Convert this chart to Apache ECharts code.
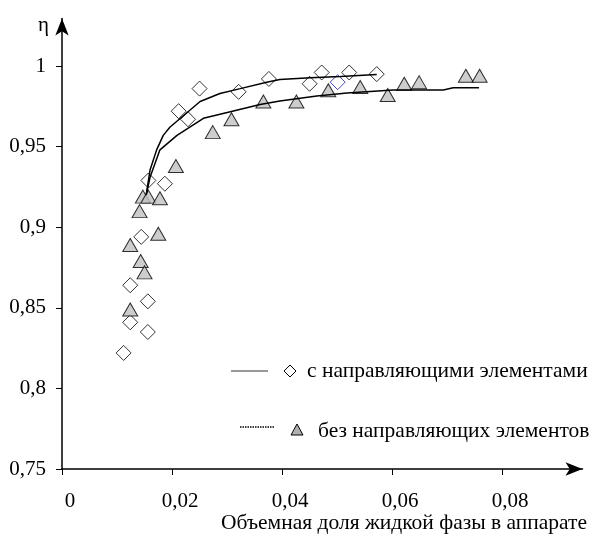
<!DOCTYPE html>
<html>
<head>
<meta charset="utf-8">
<script src="https://cdn.jsdelivr.net/npm/echarts@6/dist/echarts.min.js"></script>
<style>html,body{margin:0;padding:0;background:#fff;}#c{width:592px;height:534px;}</style>
</head>
<body>
<div id="c"></div>
<script>
// Experimental points: with guide elements (open diamonds)
const withGuidesPoints = [
  [0.0112, 0.822], [0.0124, 0.841], [0.0156, 0.835], [0.0124, 0.864], [0.0156, 0.854],
  [0.0144, 0.894], [0.0157, 0.929], [0.0187, 0.927], [0.0212, 0.972], [0.0229, 0.967],
  [0.0250, 0.986], [0.0321, 0.984], [0.0376, 0.992], [0.0450, 0.989], [0.0472, 0.996],
  [0.0501, 0.990], [0.0522, 0.996], [0.0572, 0.995]
];
// index of the point drawn with a blue outline
const highlightedIndex = 15;
// Experimental points: without guide elements (grey triangles)
const withoutGuidesPoints = [
  [0.0124, 0.889], [0.0124, 0.849], [0.0141, 0.910], [0.0143, 0.879], [0.0150, 0.872],
  [0.0147, 0.919], [0.0157, 0.919], [0.0175, 0.896], [0.0178, 0.918], [0.0207, 0.938],
  [0.0274, 0.959], [0.0308, 0.967], [0.0366, 0.978], [0.0426, 0.978], [0.0484, 0.985],
  [0.0542, 0.987], [0.0592, 0.982], [0.0622, 0.989], [0.0649, 0.990], [0.0734, 0.994],
  [0.0759, 0.994]
];
// Fitted curves
const fitWithGuides = [
  [0.0153, 0.920], [0.0160, 0.9355], [0.0172, 0.948], [0.0184, 0.957], [0.0196, 0.962],
  [0.0227, 0.971], [0.0251, 0.978], [0.0287, 0.983], [0.0324, 0.986], [0.0372, 0.990],
  [0.0396, 0.9917], [0.0451, 0.9927], [0.0506, 0.9935], [0.0572, 0.9947]
];
const fitWithoutGuides = [
  [0.0153, 0.920], [0.0160, 0.931], [0.0178, 0.948], [0.0209, 0.957], [0.0257, 0.9676],
  [0.0306, 0.9717], [0.0360, 0.9762], [0.0396, 0.9783], [0.0463, 0.9814], [0.0518, 0.9833],
  [0.0602, 0.9851], [0.0693, 0.9851], [0.0711, 0.9865], [0.0758, 0.9865]
];
const xTicks = [0, 0.02, 0.04, 0.06, 0.08];
const yTicks = [0.75, 0.8, 0.85, 0.9, 0.95, 1];
const seriesNames = ['с направляющими элементами', 'без направляющих элементов'];
const xTitle = 'Объемная доля жидкой фазы в аппарате';
const yTitle = 'η';

const FONT = 'Liberation Serif';
const fmt = v => String(+v.toFixed(4)).replace('.', ',');

const chart = echarts.init(document.getElementById('c'), null, {renderer: 'canvas'});
const diamondData = withGuidesPoints.map((p, i) => i === highlightedIndex
  ? {value: p, itemStyle: {borderColor: '#1a1a9a'}} : p);

chart.setOption({
  animation: false,
  backgroundColor: '#fff',
  grid: {left: 62, right: 9.5, top: 18.5, bottom: 65, containLabel: false},
  xAxis: {
    type: 'value', min: 0, max: 0.0946,
    axisLine: {show: true, onZero: false, symbol: ['none', 'arrow'], symbolSize: [10, 17],
      lineStyle: {color: '#000', width: 1.5}},
    axisTick: {show: true, inside: false, length: 6, customValues: xTicks, lineStyle: {color: '#000', width: 1}},
    axisLabel: {customValues: xTicks, formatter: fmt, color: '#000', fontFamily: FONT, fontSize: 21,
      margin: 22, padding: [0, 0, 0, 16]},
    splitLine: {show: false}
  },
  yAxis: {
    type: 'value', min: 0.75, max: 1.0295,
    axisLine: {show: true, onZero: false, symbol: ['none', 'arrow'], symbolSize: [10, 17],
      lineStyle: {color: '#000', width: 1.5}},
    axisTick: {show: true, inside: false, length: 6, customValues: yTicks, lineStyle: {color: '#000', width: 1}},
    axisLabel: {customValues: yTicks, formatter: fmt, color: '#000', fontFamily: FONT, fontSize: 21, margin: 16},
    splitLine: {show: false}
  },
  series: [
    {name: seriesNames[0], type: 'scatter', data: diamondData, symbol: 'diamond', symbolSize: [15, 15],
      itemStyle: {color: '#fff', borderColor: '#000', borderWidth: 1}, z: 2},
    {name: seriesNames[1], type: 'scatter', data: withoutGuidesPoints, symbol: 'triangle', symbolSize: [15, 13],
      itemStyle: {color: '#c0c0c0', borderColor: '#000', borderWidth: 1}, z: 2},
    {name: seriesNames[0] + ' (аппроксимация)', type: 'line', data: fitWithGuides, showSymbol: false,
      lineStyle: {color: '#000', width: 1.5}, z: 3},
    {name: seriesNames[1] + ' (аппроксимация)', type: 'line', data: fitWithoutGuides, showSymbol: false,
      lineStyle: {color: '#000', width: 1.5}, z: 3}
  ],
  graphic: [
    {type: 'text', left: 38, top: 15, style: {text: yTitle, font: '21px ' + FONT, fill: '#000'}},
    {type: 'text', right: 5, top: 512, style: {text: xTitle, font: '21.5px ' + FONT, fill: '#000'}},
    // legend row 1
    {type: 'line', shape: {x1: 231, y1: 371, x2: 268, y2: 371}, style: {stroke: '#333', lineWidth: 1}},
    {type: 'polygon', shape: {points: [[290, 365], [296, 371], [290, 377], [284, 371]]},
      style: {fill: '#fff', stroke: '#000', lineWidth: 1}},
    {type: 'text', x: 307, y: 371, style: {text: seriesNames[0], font: '21.5px ' + FONT, fill: '#000', verticalAlign: 'middle'}},
    // legend row 2
    {type: 'line', shape: {x1: 240, y1: 427, x2: 275, y2: 427}, style: {stroke: '#000', lineWidth: 1.5, lineDash: [1.5, 1]}},
    {type: 'polygon', shape: {points: [[297, 424], [303, 435], [291, 435]]},
      style: {fill: '#b0b0b0', stroke: '#000', lineWidth: 1}},
    {type: 'text', x: 318, y: 431, style: {text: seriesNames[1], font: '21.5px ' + FONT, fill: '#000', verticalAlign: 'middle'}}
  ]
});
</script>
</body>
</html>
